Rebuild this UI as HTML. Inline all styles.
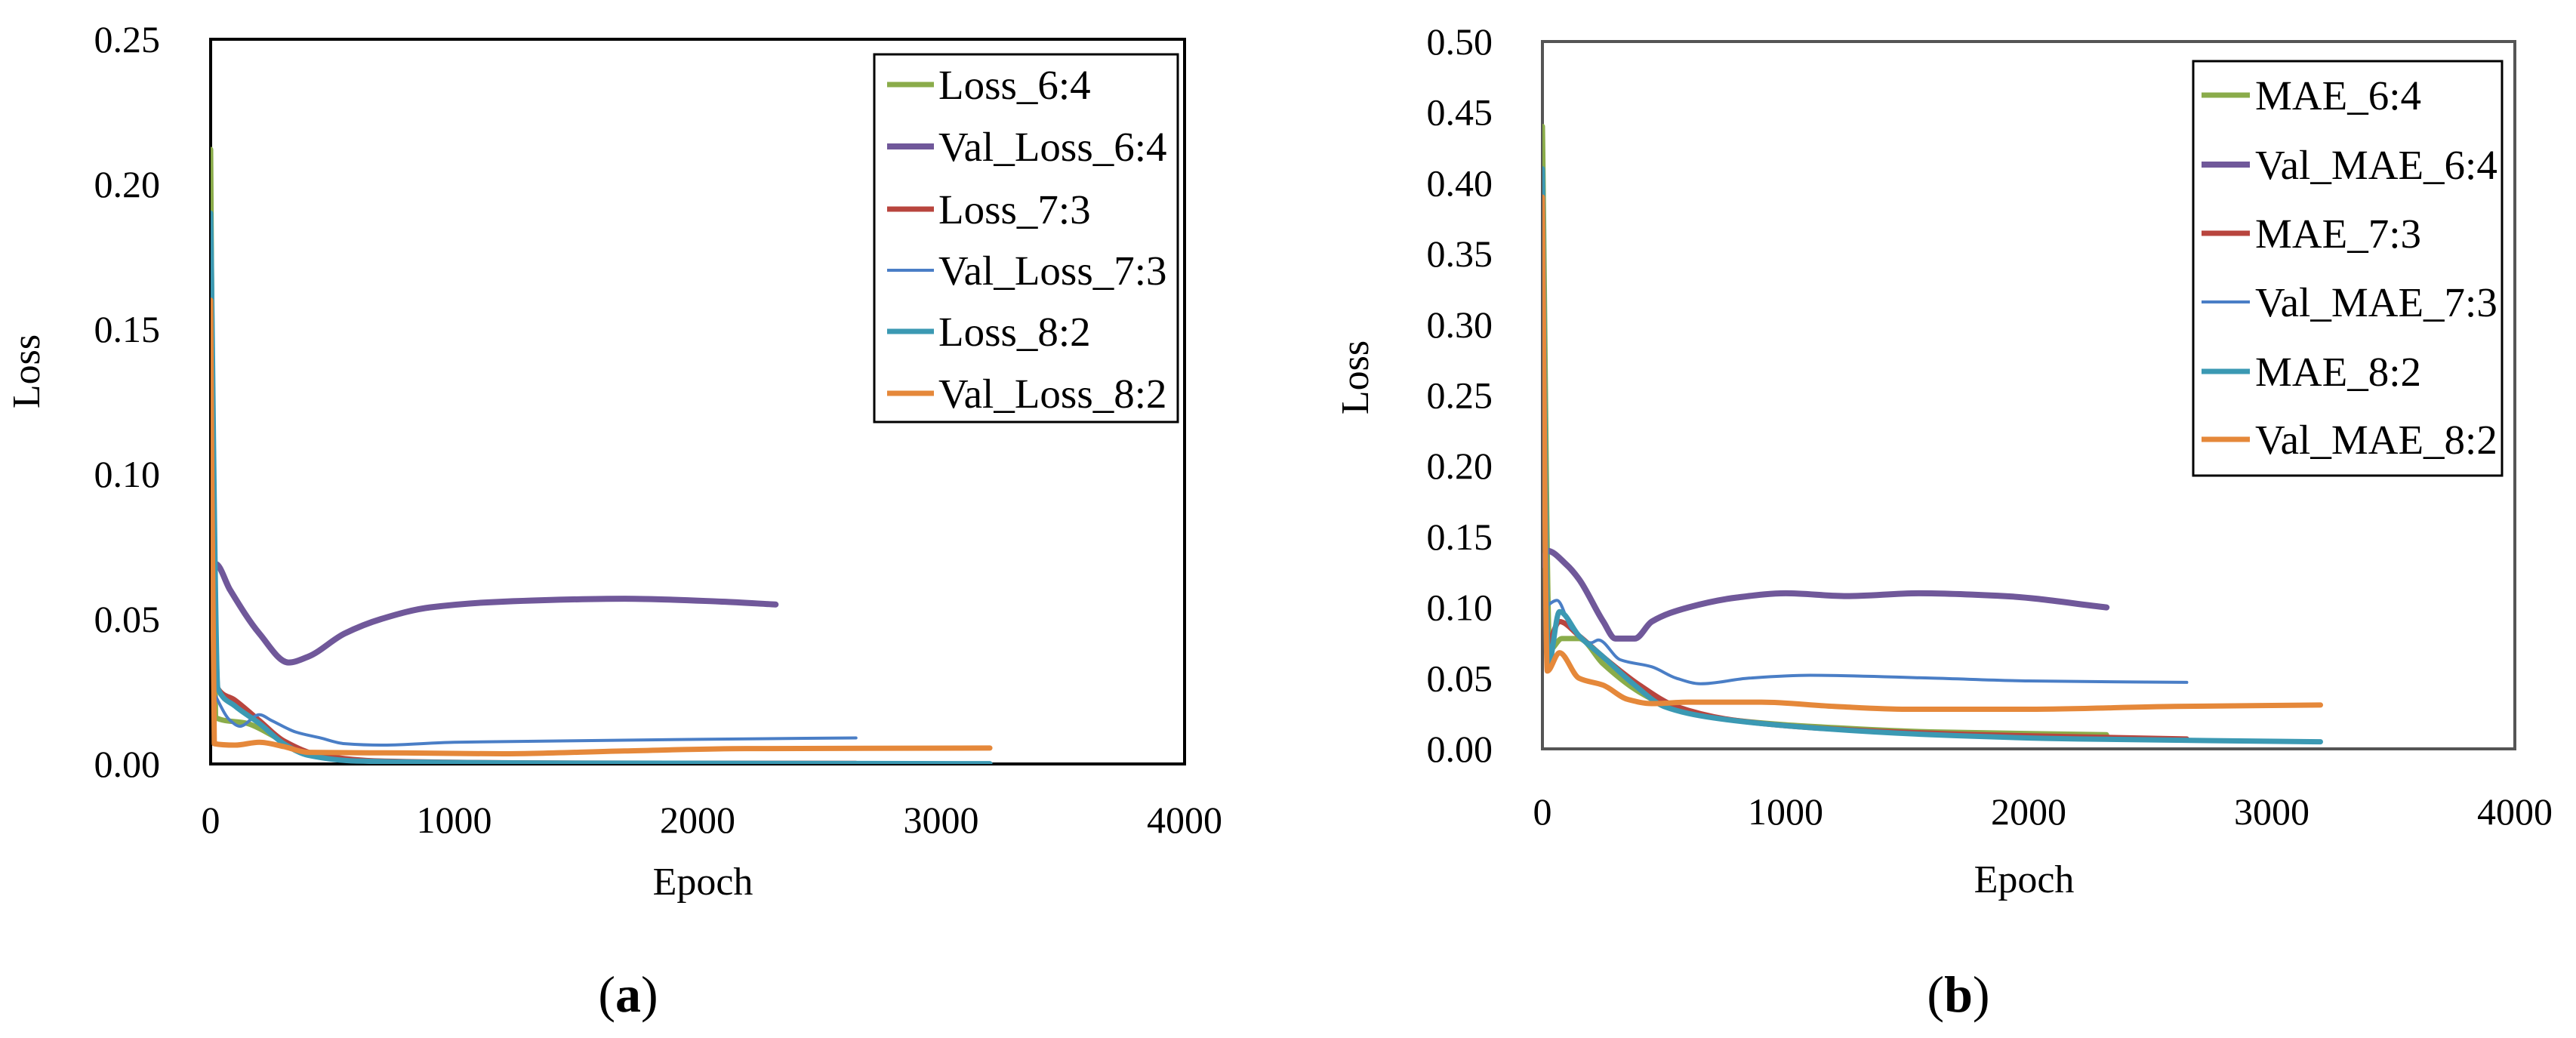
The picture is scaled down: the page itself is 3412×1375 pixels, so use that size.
<!DOCTYPE html>
<html><head><meta charset="utf-8"><style>
html,body{margin:0;padding:0;background:#fff;}
svg{display:block;font-family:"Liberation Serif",serif;}
</style></head><body>
<svg id="c" width="3412" height="1375" viewBox="0 0 3412 1375"></svg>
<script>
// ---- Panel (a) data ----
const epochsA_L64=[0,20,150,250,350,500,800,1500,2320];
const valsA_L64=[0.212,0.016,0.014,0.010,0.005,0.002,0.0005,0.0002,0.0001];
const epochsA_V64=[0,20,80,200,320,400,550,700,900,1200,1700,2100,2320];
const valsA_V64=[0.055,0.069,0.060,0.045,0.035,0.037,0.045,0.050,0.054,0.056,0.057,0.056,0.055];
const epochsA_L73=[0,30,100,200,300,450,700,1500,2650];
const valsA_L73=[0.16,0.026,0.022,0.015,0.008,0.003,0.001,0.0003,0.0002];
const epochsA_V73=[10,80,120,200,250,350,450,550,700,1000,1500,2000,2650];
const valsA_V73=[0.025,0.015,0.013,0.017,0.015,0.011,0.009,0.007,0.0065,0.0075,0.008,0.0085,0.009];
const epochsA_L82=[0,30,100,200,300,400,600,1500,3200];
const valsA_L82=[0.19,0.026,0.020,0.014,0.007,0.003,0.001,0.0003,0.0001];
const epochsA_V82=[0,15,100,200,300,400,800,1200,1700,2200,3200];
const valsA_V82=[0.16,0.007,0.0065,0.0075,0.006,0.004,0.0038,0.0035,0.0045,0.0053,0.0055];
// ---- Panel (b) data ----
const epochsB_M64=[0,30,80,150,250,400,550,800,1200,1600,2320];
const valsB_M64=[0.44,0.07,0.078,0.078,0.06,0.04,0.028,0.02,0.015,0.012,0.010];
const epochsB_V64=[0,20,100,150,250,300,380,450,600,800,1000,1250,1550,1900,2320];
const valsB_V64=[0.13,0.14,0.13,0.12,0.09,0.078,0.078,0.09,0.10,0.107,0.11,0.108,0.11,0.108,0.10];
const epochsB_M73=[0,20,70,150,250,400,550,800,1200,1800,2650];
const valsB_M73=[0.39,0.075,0.09,0.08,0.065,0.045,0.03,0.02,0.014,0.010,0.007];
const epochsB_V73=[10,60,120,200,230,320,450,550,650,850,1100,1600,2000,2650];
const valsB_V73=[0.10,0.105,0.085,0.075,0.077,0.063,0.058,0.05,0.046,0.05,0.052,0.05,0.048,0.047];
const epochsB_M82=[0,25,70,150,250,380,500,700,1100,1600,2200,3200];
const valsB_M82=[0.41,0.06,0.097,0.08,0.065,0.045,0.03,0.022,0.015,0.010,0.007,0.005];
const epochsB_V82=[0,20,70,150,250,350,450,600,900,1200,1500,2000,2600,3200];
const valsB_V82=[0.39,0.055,0.068,0.05,0.045,0.035,0.032,0.033,0.033,0.03,0.028,0.028,0.03,0.031];
const ticksX=["0","1000","2000","3000","4000"];
const ticksYA=["0.00","0.05","0.10","0.15","0.20","0.25"];
const ticksYB=["0.00","0.05","0.10","0.15","0.20","0.25","0.30","0.35","0.40","0.45","0.50"];
const namesA=["Loss_6:4","Val_Loss_6:4","Loss_7:3","Val_Loss_7:3","Loss_8:2","Val_Loss_8:2"];
const namesB=["MAE_6:4","Val_MAE_6:4","MAE_7:3","Val_MAE_7:3","MAE_8:2","Val_MAE_8:2"];

const colors=["#8aac4a","#70589a","#b8453e","#4a7ec6","#3b99b3","#e5883a"];
const widths=[7,8,7,4,7,7];
const svg=document.getElementById('c');
const NS="http://www.w3.org/2000/svg";
function mk(tag,attrs,parent){const e=document.createElementNS(NS,tag);for(const k in attrs)e.setAttribute(k,attrs[k]);(parent||svg).appendChild(e);return e;}
// monotone cubic (Fritsch-Carlson)
function pathD(pts){
  const n=pts.length;
  const dx=[],m=[],t=new Array(n);
  for(let i=0;i<n-1;i++){dx.push(pts[i+1][0]-pts[i][0]);m.push((pts[i+1][1]-pts[i][1])/dx[i]);}
  t[0]=m[0];t[n-1]=m[n-2];
  for(let i=1;i<n-1;i++){t[i]=(m[i-1]*m[i]<=0)?0:(3*(dx[i-1]+dx[i]))/((2*dx[i]+dx[i-1])/m[i-1]+(dx[i]+2*dx[i-1])/m[i]);}
  let d=`M${pts[0][0]},${pts[0][1]}`;
  for(let i=0;i<n-1;i++){
    const h=dx[i]/3;
    d+=` C${pts[i][0]+h},${pts[i][1]+t[i]*h} ${pts[i+1][0]-h},${pts[i+1][1]-t[i+1]*h} ${pts[i+1][0]},${pts[i+1][1]}`;
  }
  return d;
}
function panel(cfg){
  const {id,L,R,T,B,ymax,ticksY,series,names,leg,ylabX,ylabY,xlabX,xlabY,capX,cap,tickRight,xtickY,borderColor}=cfg;
  const g=mk('g',{});
  const xs=v=>L+(v/4000)*(R-L);
  const ys=v=>B-(v/ymax)*(B-T);
  const clipId='clip'+id;
  const cp=mk('clipPath',{id:clipId},g);mk('rect',{x:L,y:T,width:R-L,height:B-T},cp);
  mk('rect',{x:L,y:T,width:R-L,height:B-T,fill:'none',stroke:borderColor,'stroke-width':4,},g);
  ticksY.forEach((t,i)=>{const v=parseFloat(t);const e=mk('text',{x:tickRight,y:ys(v)+17,'text-anchor':'end','font-size':50,fill:'#000'},g);e.textContent=t;
    
    });
  ticksX.forEach(t=>{const v=parseFloat(t);const e=mk('text',{x:xs(v),y:xtickY,'text-anchor':'middle','font-size':50,fill:'#000'},g);e.textContent=t;
    
    });
  const lg=mk('g',{'clip-path':`url(#${clipId})`},g);
  series.forEach((s,i)=>{
    const pts=s[0].map((x,j)=>[xs(x)+0.01*j,ys(s[1][j])]);
    const p=mk('path',{d:pathD(pts),fill:'none',stroke:colors[i],'stroke-width':widths[i],'stroke-linejoin':'round','stroke-linecap':'round'},lg);
    
    
  });
  const lgd=mk('g',{},g);
  mk('rect',{x:leg.x,y:leg.y,width:leg.w,height:leg.h,fill:'#fff',stroke:'#000','stroke-width':3},lgd);
  names.forEach((n,i)=>{
    const ry=leg.rows[i];
    mk('line',{x1:leg.lx1,x2:leg.lx2,y1:ry,y2:ry,stroke:colors[i],'stroke-width':widths[i]},lgd);
    const t=mk('text',{x:leg.tx,y:ry+19,'font-size':55,fill:'#000'},lgd);t.textContent=n;
    
    
  });
  const yl=mk('text',{x:ylabX,y:ylabY,'text-anchor':'middle','font-size':52,transform:`rotate(-90 ${ylabX} ${ylabY})`},g);yl.textContent='Loss';
  
  const xl=mk('text',{x:xlabX,y:xlabY,'text-anchor':'middle','font-size':52},g);xl.textContent='Epoch';
  
  const c=mk('text',{x:capX,y:1340,'text-anchor':'middle','font-size':68},g);
  c.innerHTML=`(<tspan font-weight="bold">${cap}</tspan>)`;
  
}
panel({id:'a',L:279,R:1569,T:52,B:1012,ymax:0.25,ticksY:ticksYA,names:namesA,borderColor:'#000',
  series:[[epochsA_L64,valsA_L64],[epochsA_V64,valsA_V64],[epochsA_L73,valsA_L73],[epochsA_V73,valsA_V73],[epochsA_L82,valsA_L82],[epochsA_V82,valsA_V82]],
  leg:{x:1158,y:72,w:402,h:487,rows:[112,194,277,358,439,521],lx1:1175,lx2:1237,tx:1243},
  tickRight:212,xtickY:1103,ylabX:52,ylabY:492,xlabX:931,xlabY:1185,capX:832,cap:'a'});
panel({id:'b',L:2043,R:3331,T:55,B:992,ymax:0.5,ticksY:ticksYB,names:namesB,borderColor:'#555',
  series:[[epochsB_M64,valsB_M64],[epochsB_V64,valsB_V64],[epochsB_M73,valsB_M73],[epochsB_V73,valsB_V73],[epochsB_M82,valsB_M82],[epochsB_V82,valsB_V82]],
  leg:{x:2905,y:81,w:409,h:549,rows:[126,218,309,400,492,582],lx1:2916,lx2:2980,tx:2987},
  tickRight:1977,xtickY:1092,ylabX:1812,ylabY:500,xlabX:2681,xlabY:1182,capX:2594,cap:'b'});
</script>
</body></html>
